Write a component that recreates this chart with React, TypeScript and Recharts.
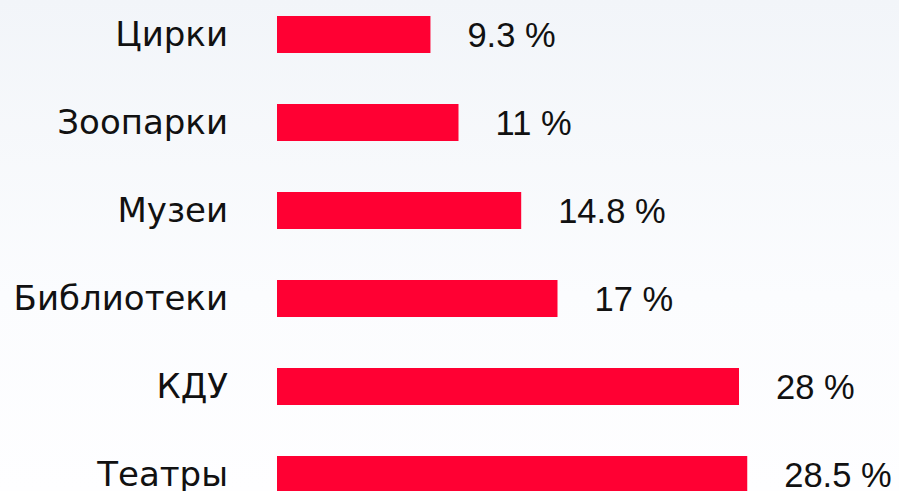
import { BarChart, Bar, XAxis, YAxis, LabelList } from "recharts";

// Доля посещений по типам учреждений, %
const categories = ["Цирки", "Зоопарки", "Музеи", "Библиотеки", "КДУ", "Театры"];
const shares = [9.3, 11, 14.8, 17, 28, 28.5];

const data = categories.map((name, i) => ({ name, value: shares[i] }));

const RED = "#ff0033";

export default function App() {
  return (
    <div
      style={{
        position: "relative",
        width: 899,
        height: 491,
        overflow: "hidden",
        background: "linear-gradient(180deg, #f2f5f9 0%, #fbfcfe 60%, #fefeff 100%)",
      }}
    >
      <style>{`body{margin:0}`}</style>
      <div style={{ position: "absolute", top: -10, left: 0 }}>
        <BarChart
          width={899}
          height={528}
          data={data}
          layout="vertical"
          margin={{ top: 0, right: 127, bottom: 0, left: 0 }}
          barSize={37}
        >
          <XAxis type="number" domain={[0, 30]} hide />
          <YAxis
            type="category"
            dataKey="name"
            width={277}
            tickLine={false}
            axisLine={false}
            tickMargin={43}
            tick={{ fill: "#111", fontSize: 34, fontFamily: "'DejaVu Sans', sans-serif" }}
          />
          <Bar dataKey="value" fill={RED} isAnimationActive={false}>
            <LabelList
              dataKey="value"
              position="right"
              offset={37}
              formatter={(v: number) => `${v} %`}
              style={{ fill: "#111", fontSize: 34.5, fontFamily: "'Liberation Sans', Arial, sans-serif" }}
            />
          </Bar>
        </BarChart>
      </div>
    </div>
  );
}
